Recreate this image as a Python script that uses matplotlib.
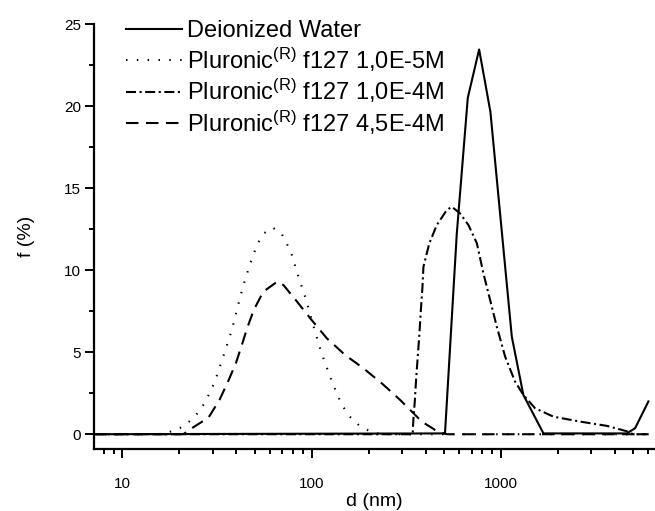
import matplotlib
matplotlib.use("Agg")
import matplotlib.pyplot as plt
from matplotlib.ticker import FixedLocator, NullFormatter, FixedFormatter, MultipleLocator

plt.rcParams['font.family'] = ['Liberation Sans', 'DejaVu Sans']
plt.rcParams['mathtext.default'] = 'regular'

# ---- data ----
water_d = [7.1, 507, 585, 669, 768, 881, 1143, 1316, 1680, 4634, 5127, 6026]
water_f = [0.0, 0.05, 12.2, 20.5, 23.45, 19.65, 5.95, 2.39, 0.05, 0.05, 0.37, 2.0]

p1_d = [7.1, 15.5, 16.5, 19.0, 21.6, 24.4, 26.8, 28.8, 30.5, 32.0, 34.9, 37.9, 40.5,
        43.4, 47.1, 51.7, 56.1, 62.4, 69.6, 74.2, 78.6, 85.2, 93.2, 104, 112.2,
        123.3, 136.9, 145.5, 159.2, 178.9, 206.3, 235, 6026]
p1_f = [0.0, 0.0, 0.06, 0.22, 0.57, 1.13, 1.79, 2.46, 3.1, 3.75, 5.08, 6.36, 7.68,
        9.0, 10.32, 11.6, 12.25, 12.59, 12.2, 11.58, 10.93, 9.6, 8.25, 6.3, 5.04,
        3.72, 2.39, 1.74, 1.07, 0.52, 0.14, 0.0, 0.0]

p2_d = [7.1, 342, 345, 351, 357, 364, 371.5, 378, 385, 390, 419, 459, 518, 551, 609,
        674, 747, 809, 878, 952, 1054, 1190, 1317, 1518, 1897, 2625, 3634, 4634,
        5000, 6026]
p2_f = [0.0, 0.0, 0.87, 2.0, 3.4, 4.74, 6.15, 7.57, 8.89, 10.21, 11.64, 12.75, 13.66,
        13.86, 13.46, 12.75, 11.64, 9.81, 8.18, 6.56, 4.73, 3.2, 2.39, 1.58, 1.07,
        0.77, 0.51, 0.18, 0.0, 0.0]

p3_d = [7.1, 21, 22.8, 28.5, 32.6, 36.3, 39.8, 42.8, 45.8, 49.7, 55.6, 65.9, 71.0,
        83.5, 99.4, 120.3, 150.3, 187.8, 235, 293.7, 352.4, 382.3, 449.7, 497, 520, 6026]
p3_f = [0.0, 0.0, 0.3, 1.01, 2.09, 3.25, 4.33, 5.44, 6.52, 7.62, 8.69, 9.3, 9.09,
        8.1, 7.0, 5.85, 4.83, 4.02, 3.1, 2.09, 1.18, 0.77, 0.26, 0.06, 0.0, 0.0]

labels = ["Deionized Water",
          "Pluronic$^{(R)}$ f127 1,0E-5M",
          "Pluronic$^{(R)}$ f127 1,0E-4M",
          "Pluronic$^{(R)}$ f127 4,5E-4M"]

x_major = [10, 100, 1000]
x_major_labels = ["10", "100", "1000"]
x_minor = [8, 9, 20, 30, 40, 50, 60, 70, 80, 90, 200, 300, 400, 500, 600, 700, 800,
           900, 2000, 3000, 4000, 5000, 6000]

# ---- figure ----
fig = plt.figure(figsize=(6.55, 5.11), dpi=100)
ax = fig.add_axes([94 / 655, 62 / 511, 560 / 655, 425 / 511])

lw = 1.5
ax.plot(water_d, water_f, color='black', lw=lw, linestyle='-', label=labels[0])
ax.plot(p1_d, p1_f, color='black', lw=lw, linestyle=(0, (0.7, 4.5)), label=labels[1])
ax.plot(p2_d, p2_f, color='black', lw=lw, linestyle=(0, (4.8, 1.7, 1.0, 1.7)), label=labels[2])
ax.plot(p3_d, p3_f, color='black', lw=lw, linestyle=(0, (6.0, 3.6)), label=labels[3])

ax.set_xscale('log')
ax.set_xlim(7.08, 6450)
ax.set_ylim(-0.9, 25)

ax.xaxis.set_major_locator(FixedLocator(x_major))
ax.xaxis.set_major_formatter(FixedFormatter(x_major_labels))
ax.xaxis.set_minor_locator(FixedLocator(x_minor))
ax.xaxis.set_minor_formatter(NullFormatter())
ax.yaxis.set_major_locator(MultipleLocator(5))
ax.yaxis.set_minor_locator(MultipleLocator(2.5))

for s in ['top', 'right']:
    ax.spines[s].set_visible(False)
for s in ['left', 'bottom']:
    ax.spines[s].set_linewidth(1.6)

ax.tick_params(which='major', direction='out', length=6.5, width=1.4, labelsize=11)
ax.tick_params(which='minor', direction='out', length=3.5, width=1.4)
ax.tick_params(axis='x', which='major', pad=13.5)
ax.tick_params(axis='y', which='major', pad=3)

ax.set_xlabel("d (nm)", fontsize=14)
ax.set_ylabel("f (%)", fontsize=14)
ax.xaxis.set_label_coords(0.5, -0.103)
ax.yaxis.set_label_coords(-0.106, 0.5)

leg = ax.legend(loc='upper left', bbox_to_anchor=(125.5 / 655, 1 - 20 / 511),
                bbox_transform=fig.transFigure, frameon=False, fontsize=17,
                handlelength=2.4, handletextpad=0.22, labelspacing=0.14,
                borderpad=0, borderaxespad=0)

fig.savefig("out.png", dpi=100, facecolor='white')
